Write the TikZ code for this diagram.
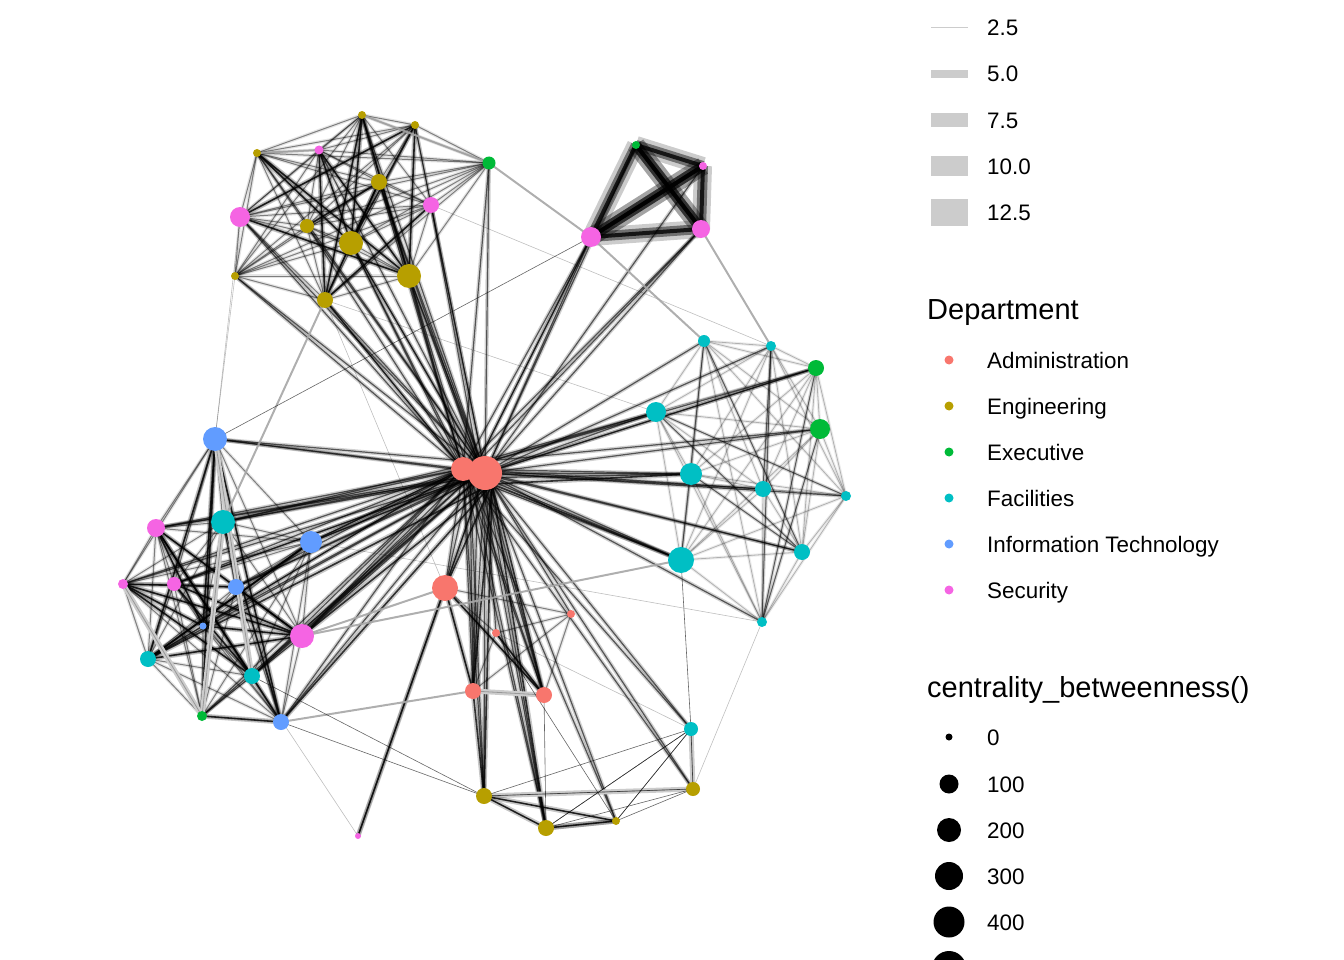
\documentclass[tikz,border=0pt]{standalone}
\usepackage{fontspec}
\setmainfont{Liberation Sans}
\pgfdeclarelayer{background}
\pgfsetlayers{background,main}
\definecolor{cadm}{HTML}{F8766D}
\definecolor{ceng}{HTML}{B79F00}
\definecolor{cexe}{HTML}{00BA38}
\definecolor{cfac}{HTML}{00BFC4}
\definecolor{cit}{HTML}{619CFF}
\definecolor{csec}{HTML}{F564E3}
\definecolor{legray}{HTML}{CCCCCC}
\newcommand{\vtx}[5]{\node[vnode,fill=#5,minimum size=#4pt] (#1) at (#2,#3) {};}
\newcommand{\cliq}[2]{\foreach \a [count=\i] in {#2} {\foreach \b [count=\j] in {#2} {\ifnum\j>\i \draw[#1] (\a.center) -- (\b.center);\fi}}}
\newcommand{\pairs}[2]{\foreach \a/\b in {#2} {\draw[#1] (\a.center) -- (\b.center);}}
\tikzset{
  vnode/.style={circle,inner sep=0pt,draw=none},
  hubedge/.style={draw=black,draw opacity=.6,line width=1.2pt,preaction={draw=black,draw opacity=.18,line width=4pt}},
  midedge/.style={draw=black,draw opacity=.45,line width=1pt,preaction={draw=black,draw opacity=.1,line width=3.5pt}},
  lightedge/.style={draw=black,draw opacity=.25,line width=.8pt,preaction={draw=black,draw opacity=.08,line width=3pt}},
  strongedge/.style={draw=black,draw opacity=.75,line width=1.6pt,preaction={draw=black,draw opacity=.22,line width=5pt}},
  thinedge/.style={draw=black,draw opacity=.6,line width=.6pt},
  faintedge/.style={draw=black,draw opacity=.25,line width=.6pt},
  grayband/.style={draw=black!45,draw opacity=.8,line width=.8pt,preaction={draw=black!20,line width=5pt}},
  graymid/.style={draw=black!35,line width=2pt,draw opacity=.9},
  heavyedge/.style={draw=black,line width=4pt,draw opacity=.8,preaction={draw=black,line width=18pt,draw opacity=.2},preaction={draw=black,line width=10pt,draw opacity=.45}},
  legtxt/.style={anchor=base west,font=\fontsize{22.4}{26}\selectfont,inner sep=0pt},
  legttl/.style={anchor=base west,font=\fontsize{29}{34}\selectfont,inner sep=0pt},
  dot/.style={circle,fill=black,inner sep=0pt}
}
\begin{document}
\begin{tikzpicture}[x=1pt,y=-1pt]
\useasboundingbox (0,0) rectangle (1344,960);
% ---- nodes: top cluster
\vtx{E1}{362}{115}{8}{ceng}
\vtx{E2}{415}{125}{8}{ceng}
\vtx{E3}{257}{153}{8}{ceng}
\vtx{S1}{319}{150}{9}{csec}
\vtx{X1}{489}{163}{13}{cexe}
\vtx{E4}{379}{182}{16}{ceng}
\vtx{S2}{431}{205}{16}{csec}
\vtx{S3}{240}{217}{20}{csec}
\vtx{E5}{307}{226}{14}{ceng}
\vtx{E6}{351}{243}{24}{ceng}
\vtx{E7}{235}{276}{8}{ceng}
\vtx{E8}{409}{276}{24}{ceng}
\vtx{E9}{325}{300}{16}{ceng}
% top right
\vtx{X2}{636}{145}{8}{cexe}
\vtx{S4}{703}{166}{8}{csec}
\vtx{S5}{591}{237}{20}{csec}
\vtx{S6}{701}{229}{18}{csec}
% left cluster
\vtx{I1}{215}{439}{24}{cit}
\vtx{S7}{156}{528}{18}{csec}
\vtx{F1}{223}{522}{24}{cfac}
\vtx{I2}{311}{542}{22}{cit}
\vtx{S8}{123}{584}{10}{csec}
\vtx{S9}{174}{584}{14}{csec}
\vtx{I3}{236}{587}{16}{cit}
\vtx{I4}{203}{626}{7}{cit}
\vtx{S10}{302}{636}{24}{csec}
\vtx{F2}{148}{659}{16}{cfac}
\vtx{F3}{252}{676}{16}{cfac}
\vtx{X3}{202}{716}{10}{cexe}
\vtx{I5}{281}{722}{16}{cit}
% right cluster
\vtx{F4}{704}{341}{12}{cfac}
\vtx{F5}{771}{346}{10}{cfac}
\vtx{X4}{816}{368}{16}{cexe}
\vtx{F6}{656}{412}{20}{cfac}
\vtx{X5}{820}{429}{20}{cexe}
\vtx{F7}{691}{474}{22}{cfac}
\vtx{F8}{763}{489}{16}{cfac}
\vtx{F9}{846}{496}{10}{cfac}
\vtx{F10}{802}{552}{16}{cfac}
\vtx{F11}{681}{560}{26}{cfac}
\vtx{F12}{762}{622}{10}{cfac}
% center
\vtx{A1}{463}{469}{24}{cadm}
\vtx{A2}{485}{473}{34}{cadm}
\vtx{A3}{445}{588}{26}{cadm}
\vtx{A4}{571}{614}{8}{cadm}
\vtx{A5}{496}{633}{8}{cadm}
\vtx{A6}{473}{691}{16}{cadm}
\vtx{A7}{544}{695}{16}{cadm}
% bottom
\vtx{F13}{691}{729}{14}{cfac}
\vtx{E10}{484}{796}{16}{ceng}
\vtx{E11}{693}{789}{14}{ceng}
\vtx{E12}{546}{828}{16}{ceng}
\vtx{E13}{616}{821}{8}{ceng}
\vtx{S11}{358}{836}{6}{csec}
% helper points near the hub, for bundles of parallel lines
\coordinate (H1) at (470,478);
\coordinate (H2) at (478,462);
\coordinate (H3) at (492,484);
% ---- edges
\begin{pgfonlayer}{background}
\foreach \n in {E1,E2,E3,S1,X1,E4,S2,S3,E5,E6,E7,E8,E9,X2,S4,S5,S6,F4,F5,X4,F6,X5,F7,F8,F9,F10,F11,F12,F13,E11,E13,E12,E10,A7,A6,A5,A4,A3,S11,I5,X3,F3,F2,S10,I4,I3,S9,S8,I2,S7,F1,I1}
  {\draw[hubedge] (A2.center) -- (\n.center);}
\foreach \n in {E6,E8,E9,E5,S3,E4,S5,S6,X4,F7,F6,A3,A6,A7,I1,F1,S7,I2,S10,I3,S9,F2,F3,E12,E10,F11,S8,I4,X3,I5,E7,E1,X1,F8,F10}
  {\draw[hubedge] (A1.center) -- (\n.center);}
\foreach \n in {E8,E6,E9,S5,A6,A7,A3,E12,E10,F1,I2,S10,F3,I3,F7,X4,F11,E11,E13,F13,S7,S9}
  {\draw[hubedge] (H1) -- (\n.center);}
\foreach \n in {E8,E4,S2,S5,S6,E6,X5,F6,A6,A7,E12,I1,F1,I2,S10}
  {\draw[hubedge] (H2) -- (\n.center);}
\foreach \n in {A6,A7,A3,E12,E10,F11,F7,S10,I5,F2}
  {\draw[strongedge] (H3) -- (\n.center);}
\cliq{midedge}{E1,E2,E3,S1,X1,E4,S2,S3,E5,E6,E7,E8,E9}
\pairs{strongedge}{E1/E6,E1/E8,E2/E8,E4/E6,E4/E9,S1/E6,E3/E8,S3/E8,E4/E5,S2/E9,E2/S3,S1/E8,E1/E9,S1/E9,E3/E6,E2/E6}
\pairs{graymid}{E1/X1,E3/S1}
\cliq{heavyedge}{X2,S4,S5,S6}
\pairs{heavyedge}{S5/S4,X2/S6}
\cliq{midedge}{I1,S7,F1,I2,S8,S9,I3,I4,S10,F2,F3,X3,I5}
\pairs{strongedge}{I1/I4,I1/X3,I1/F2,S7/F3,S7/I4,S8/S10,S8/I4,F2/S10,I4/S10,F1/I5,I2/F2,S9/S10,I3/S10,S7/S10,S8/F3,S8/I3,F2/I2,S7/I5,I1/I5,F1/X3,S9/F3}
\pairs{grayband}{I1/F3,F1/X3,S8/X3}
\cliq{lightedge}{F4,F5,X4,F6,X5,F7,F8,F9,F10,F11,F12}
\pairs{midedge}{F4/F11,F6/F10,F5/F8,F5/F12,F4/F10,X4/F12,F7/F10,F6/F9,X5/F12}
\cliq{midedge}{A3,A4,A5,A6,A7}
\pairs{grayband}{A6/A7,E10/E11,E12/E13,F13/E11}
\cliq{thinedge}{E10,E11,E12,E13,F13}
\pairs{strongedge}{E10/E12,E10/E13,E12/E13,A6/E10,X3/I5,S11/A3,A3/A6,A3/A7,A5/A7}
\pairs{faintedge}{E7/I1,E9/A3,S2/F5,F12/I2,S11/F3,F12/E11,E9/F6,I1/S3,F13/A5}
\pairs{graymid}{E9/F1,X1/S5,S6/F5,S5/F4,S10/F11,I5/A6,S10/A3}
\pairs{thinedge}{I1/S5,E10/F3,E10/I5,F11/F13,F13/E12,F13/E13,A7/E12,A5/E13}
\end{pgfonlayer}
% ---- legend: edge width
\draw[legray,line width=1pt] (931,28) -- (968,28);
\fill[legray] (931,70) rectangle (968,78);
\fill[legray] (931,113) rectangle (968,127);
\fill[legray] (931,156) rectangle (968,176);
\fill[legray] (931,199) rectangle (968,226);
\node[legtxt] (w1) at (987,36) {2.5};
\node[legtxt] (w2) at (987,82) {5.0};
\node[legtxt] (w3) at (987,129) {7.5};
\node[legtxt] (w4) at (987,175) {10.0};
\node[legtxt] (w5) at (987,221) {12.5};
% ---- legend: department
\node[legttl] (dtitle) at (927,319) {Department};
\node[dot,fill=cadm,minimum size=9pt] (d1) at (949,360) {};
\node[dot,fill=ceng,minimum size=9pt] (d2) at (949,406) {};
\node[dot,fill=cexe,minimum size=9pt] (d3) at (949,452) {};
\node[dot,fill=cfac,minimum size=9pt] (d4) at (949,498) {};
\node[dot,fill=cit,minimum size=9pt] (d5) at (949,544) {};
\node[dot,fill=csec,minimum size=9pt] (d6) at (949,590) {};
\node[legtxt] (t1) at (987,368) {Administration};
\node[legtxt] (t2) at (987,414) {Engineering};
\node[legtxt] (t3) at (987,460) {Executive};
\node[legtxt] (t4) at (987,506) {Facilities};
\node[legtxt] (t5) at (987,552) {Information Technology};
\node[legtxt] (t6) at (987,598) {Security};
% ---- legend: centrality
\node[legttl] (ctitle) at (927,697) {centrality\_betweenness()};
\node[dot,minimum size=7pt] (c0) at (949,737) {};
\node[dot,minimum size=19pt] (c1) at (949,784) {};
\node[dot,minimum size=24pt] (c2) at (949,830) {};
\node[dot,minimum size=28pt] (c3) at (949,876) {};
\node[dot,minimum size=31pt] (c4) at (949,922) {};
\node[dot,minimum size=34pt] (c5) at (949,968) {};
\node[legtxt] (n0) at (987,745) {0};
\node[legtxt] (n1) at (987,792) {100};
\node[legtxt] (n2) at (987,838) {200};
\node[legtxt] (n3) at (987,884) {300};
\node[legtxt] (n4) at (987,930) {400};
\end{tikzpicture}
\end{document}
